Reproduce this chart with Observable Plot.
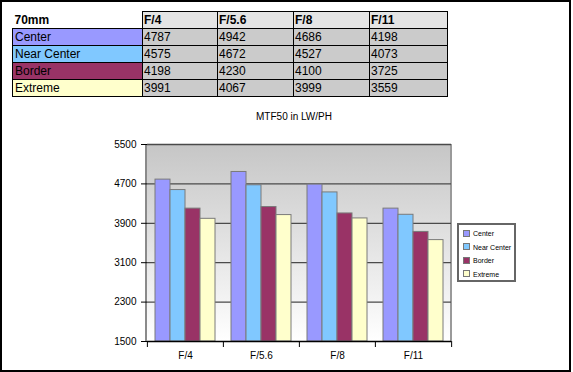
<!DOCTYPE html>
<html><head><meta charset="utf-8">
<script src="https://cdn.jsdelivr.net/npm/d3@7"></script>
<script src="https://cdn.jsdelivr.net/npm/@observablehq/plot@0.6"></script>
<style>
body{margin:0;background:#fff;font-family:Arial,"Liberation Sans",sans-serif}
#wrap{position:relative;width:573px;height:372px;overflow:hidden;background:#fff}
#frame{position:absolute;left:0;top:0;width:571px;height:372px;border:2px solid #000;box-sizing:border-box;pointer-events:none;z-index:5}
#tbl{position:absolute;left:12px;top:11px;border-collapse:collapse;table-layout:fixed;font-size:12px;color:#000}
#tbl td{border:1px solid #000;height:16px;line-height:16px;padding:0 0 0 1px;overflow:hidden;white-space:nowrap}
#tbl td.lab{padding-left:2px}
#tbl td.corner{border-top:none;border-left:none;background:#fff;font-weight:bold;padding-left:2px}
#tbl td.hd{background:#e4e4e4;font-weight:bold}
#tbl td.val{background:#cbcbcb}
#bg{position:absolute;left:145px;top:144px;width:307px;height:197px;box-sizing:border-box;border-left:2px solid #8a8a8a;border-right:2px solid #9a9a9a;background:linear-gradient(to bottom,#c6c6c6,#ffffff);z-index:1}
#chart{position:absolute;left:0;top:100px;z-index:2}
#title{position:absolute;left:194px;top:111px;width:200px;text-align:center;font-size:10px;line-height:12px;color:#000;z-index:3}
#legend{position:absolute;left:457px;top:223px;width:59px;height:59px;box-sizing:border-box;border:2px solid #666;background:#fff;padding-top:2px;z-index:3}
#legend .it{height:13.6px;line-height:13.6px;font-size:7px;white-space:nowrap;padding-left:4px;color:#000}
#legend .sw{display:inline-block;width:5px;height:5px;border:1px solid #777;margin-right:3px;vertical-align:middle;position:relative;top:-1px}
</style></head>
<body>
<div id="wrap">
  <table id="tbl"></table>
  <div id="bg"></div>
  <div id="title">MTF50 in LW/PH</div>
  <div id="chart"></div>
  <div id="legend"></div>
  <div id="frame"></div>
</div>
<script>
const tableTitle = "70mm";
const stops = ["F/4", "F/5.6", "F/8", "F/11"];
const series = ["Center", "Near Center", "Border", "Extreme"];
const center = [4787, 4942, 4686, 4198];
const nearCenter = [4575, 4672, 4527, 4073];
const border = [4198, 4230, 4100, 3725];
const extreme = [3991, 4067, 3999, 3559];
const colors = ["#9999ff", "#80c8ff", "#993366", "#ffffcc"];
const yTicks = [1500, 2300, 3100, 3900, 4700, 5500];
const chartTitle = "MTF50 in LW/PH";

const values = [center, nearCenter, border, extreme];
const rows = series.flatMap((s, i) => stops.map((f, j) => ({series: s, stop: f, value: values[i][j]})));

document.getElementById("title").textContent = chartTitle;

// table
const colW = [130, 75, 76, 76, 78];
const tbl = document.getElementById("tbl");
const cg = document.createElement("colgroup");
colW.forEach(w => { const c = document.createElement("col"); c.style.width = w + "px"; cg.appendChild(c); });
tbl.appendChild(cg);
const hr = tbl.insertRow();
const c0 = hr.insertCell(); c0.className = "corner"; c0.textContent = tableTitle;
stops.forEach(s => { const c = hr.insertCell(); c.className = "hd"; c.textContent = s; });
series.forEach((s, i) => {
  const r = tbl.insertRow();
  const l = r.insertCell(); l.className = "lab"; l.textContent = s; l.style.background = colors[i];
  values[i].forEach(v => { const c = r.insertCell(); c.className = "val"; c.textContent = v; });
});

// legend
const lg = document.getElementById("legend");
series.forEach((s, i) => {
  const d = document.createElement("div"); d.className = "it";
  const sw = document.createElement("span"); sw.className = "sw"; sw.style.background = colors[i];
  d.appendChild(sw); d.appendChild(document.createTextNode(s));
  lg.appendChild(d);
});

// chart
const W = 573, H = 272, mL = 146, mR = 122, mT = 44, mB = 31;
const band = (W - mL - mR) / stops.length;
const chart = Plot.plot({
  width: W, height: H, marginLeft: mL, marginRight: mR, marginTop: mT, marginBottom: mB,
  style: {background: "transparent", fontFamily: "Arial, 'Liberation Sans', sans-serif", fontSize: "10px", color: "#000"},
  fx: {domain: stops, padding: 0, label: null},
  x: {domain: series, paddingInner: 0, paddingOuter: 0.5, axis: null},
  y: {domain: [1500, 5500], ticks: yTicks, tickSize: 6, tickPadding: 5, label: null, tickFormat: d => String(d)},
  color: {domain: series, range: colors},
  marks: [
    Plot.ruleY(yTicks.slice(1), {stroke: "#4a4a4a", strokeWidth: 1.3}),
    Plot.barY(rows, {fx: "stop", x: "series", y1: 1500, y2: "value", fill: "series", stroke: "#7a7a7a", strokeWidth: 1}),
    Plot.ruleY([1500], {stroke: "#000", strokeWidth: 1.5}),
    Plot.axisFx({anchor: "bottom", tickSize: 0, tickPadding: 10, label: null, fontSize: 10}),
    Plot.axisFx({anchor: "bottom", tickSize: 6, tickFormat: () => "", label: null, dx: -band / 2}),
    Plot.axisFx({anchor: "bottom", ticks: [stops[stops.length - 1]], tickSize: 6, tickFormat: () => "", label: null, dx: band / 2})
  ]
});
document.getElementById("chart").appendChild(chart);
</script>
</body></html>
